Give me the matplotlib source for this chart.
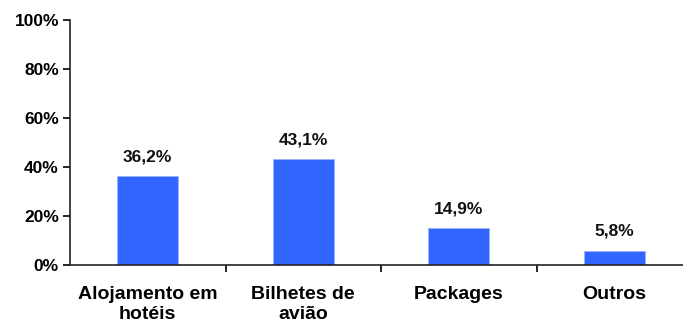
import numpy as np
import matplotlib
matplotlib.use("Agg")
import matplotlib.pyplot as plt
from matplotlib.ticker import FixedLocator, FuncFormatter

plt.rcParams["font.family"] = ["Liberation Sans", "DejaVu Sans"]

categories = ["Alojamento em\nhotéis", "Bilhetes de\navião", "Packages", "Outros"]
shares = [36.2, 43.1, 14.9, 5.8]
y_ticks = [0, 20, 40, 60, 80, 100]

BAR_BLUE = "#3366FF"

fig = plt.figure(figsize=(6.83, 3.26), dpi=100)
ax = fig.add_axes([70 / 683, 61 / 326, 622 / 683, 245 / 326])

x = np.arange(len(categories))
ax.bar(x, shares, width=0.39, color=BAR_BLUE, edgecolor="#99B3FF", linewidth=0.6, zorder=2)

for xi, v in zip(x, shares):
    ax.text(xi, v + 5.0, f"{v:.1f}%".replace(".", ","), ha="center", va="bottom",
            fontsize=12.5, fontweight="bold", color="#111111")

ax.set_xlim(-0.5, len(categories) - 0.5)
ax.set_ylim(0, 100)

ax.yaxis.set_major_locator(FixedLocator(y_ticks))
ax.yaxis.set_major_formatter(FuncFormatter(lambda v, _: f"{v:.0f}%"))
ax.tick_params(axis="y", direction="out", length=5, width=1.2, pad=3,
               labelsize=12.5)
for lbl in ax.get_yticklabels():
    lbl.set_fontweight("bold")

# category labels sit between boundary ticks
ax.set_xticks(x)
ax.set_xticklabels(categories, fontsize=14, fontweight="bold", linespacing=1.25)
ax.tick_params(axis="x", length=0, pad=15)
ax.set_xticks(np.arange(0.5, len(categories) - 0.5, 1), minor=True)
ax.tick_params(axis="x", which="minor", direction="out", length=5, width=1.2)

for side in ("top", "right"):
    ax.spines[side].set_visible(False)
for side in ("left", "bottom"):
    ax.spines[side].set_linewidth(1.2)
    ax.spines[side].set_color("#222222")

fig.savefig("out.png", dpi=100)
